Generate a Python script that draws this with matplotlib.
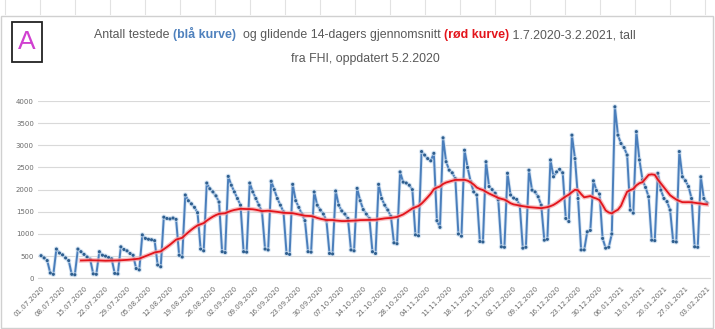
import matplotlib
matplotlib.use("Agg")
import matplotlib.pyplot as plt
import matplotlib.patheffects as pe
from matplotlib import font_manager
from matplotlib.patches import Rectangle
from matplotlib.lines import Line2D
import pandas as pd

# -----------------------------
# Data
# -----------------------------
START_DATE = "2020-07-01"

# daily number tested, one line per week (Mon..Sun); first line starts Wed 1.7
daily_tested = [
    510, 460, 400, 120, 90,
    660, 570, 530, 460, 400, 90, 80,
    660, 600, 540, 480, 430, 100, 90,
    600, 520, 500, 470, 440, 110, 100,
    710, 650, 620, 560, 520, 220, 190,
    980, 900, 880, 870, 850, 300, 260,
    1380, 1350, 1340, 1360, 1330, 520, 480,
    1880, 1750, 1680, 1600, 1480, 660, 620,
    2150, 2020, 1950, 1860, 1720, 600, 580,
    2300, 2100, 1950, 1800, 1650, 600, 590,
    2150, 1950, 1800, 1650, 1500, 660, 640,
    2190, 2000, 1800, 1650, 1500, 560, 540,
    2120, 1750, 1600, 1450, 1300, 600, 590,
    1950, 1650, 1540, 1450, 1300, 560, 550,
    1970, 1650, 1520, 1450, 1350, 640, 620,
    2030, 1750, 1550, 1450, 1350, 600, 560,
    2120, 1800, 1650, 1540, 1400, 800, 780,
    2400, 2170, 2150, 2100, 2000, 980, 960,
    2860, 2780, 2700, 2650, 2820, 1300, 1150,
    3170, 2630, 2440, 2380, 2250, 1000, 950,
    2890, 2500, 2180, 1950, 1880, 830, 820,
    2630, 2070, 2000, 1920, 1770, 710, 700,
    2370, 1880, 1810, 1780, 1650, 680, 700,
    2440, 1990, 1950, 1840, 1650, 860, 880,
    2670, 2290, 2400, 2460, 2380, 1350, 1280,
    3230, 2700, 1800, 640, 640, 1050, 1080,
    2200, 1980, 1900, 900, 680, 700, 1000,
    3870, 3230, 3040, 2950, 2780, 1540, 1470,
    3310, 2670, 2220, 2050, 1840, 860, 850,
    2370, 1990, 1800, 1730, 1540, 830, 820,
    2860, 2290, 2200, 2070, 1800, 710, 700,
    2290, 1800, 1700,
]

WINDOW = 14
Y_TICKS = [0, 500, 1000, 1500, 2000, 2500, 3000, 3500, 4000]
TICK_EVERY = 7

GREY = "#595959"
BLUE = "#4a7ebb"
RED = "#e3141b"

title_parts = [
    ("Antall testede ", GREY, "normal"),
    ("(blå kurve)", "#4f81bd", "bold"),
    ("  og glidende 14-dagers gjennomsnitt ", GREY, "normal"),
    ("(rød kurve)", RED, "bold"),
    (" 1.7.2020-3.2.2021, tall", GREY, "normal"),
]
title_line2 = "fra FHI, oppdatert 5.2.2020"

# -----------------------------
# Prep
# -----------------------------
dates = pd.date_range(START_DATE, periods=len(daily_tested), freq="D")
df = pd.DataFrame({"date": dates, "tested": daily_tested})
df["avg14"] = df["tested"].rolling(WINDOW).mean()
x = list(range(len(df)))

names = {f.name for f in font_manager.fontManager.ttflist}
TITLE_FONT = "Liberation Sans Narrow" if "Liberation Sans Narrow" in names else "Liberation Sans"

# -----------------------------
# Plot
# -----------------------------
W, H = 715, 329
fig = plt.figure(figsize=(W / 100, H / 100), dpi=100)
fig.patch.set_facecolor("white")

ax_l, ax_r, ax_t, ax_b = 38, 710, 101, 278.3
ax = fig.add_axes([ax_l / W, 1 - ax_b / H, (ax_r - ax_l) / W, (ax_b - ax_t) / H])

ax.plot(x, df["tested"], color=BLUE, lw=1.4, marker="o", ms=1.2,
        mfc="#2f5f8f", mec="#2f5f8f",
        path_effects=[pe.Stroke(linewidth=2.6, foreground="#c9dcef", alpha=0.7), pe.Normal()])
ax.plot(x, df["avg14"], color=RED, lw=1.3,
        path_effects=[pe.Stroke(linewidth=3.2, foreground="#f5a3a6", alpha=0.7), pe.Normal()])

ax.set_xlim(-1.0, len(df))
ax.set_ylim(0, 4000)
ax.set_yticks(Y_TICKS)
ax.set_yticklabels([str(v) for v in Y_TICKS])
ax.grid(axis="y", color="#d9d9d9", lw=0.8)
ax.set_axisbelow(True)

tick_pos = x[::TICK_EVERY]
ax.set_xticks(tick_pos)
ax.set_xticklabels([d.strftime("%d.%m.%Y") for d in df["date"][::TICK_EVERY]],
                   rotation=45, ha="right", rotation_mode="anchor")

for s in ["top", "right", "left"]:
    ax.spines[s].set_visible(False)
ax.spines["bottom"].set_color("#d9d9d9")
ax.tick_params(axis="both", length=0, labelsize=5, colors="#6a6a6a", pad=3)
ax.tick_params(axis="x", pad=5)

# frame + sheet ruler marks at the top
fig.add_artist(Rectangle((1 / W, 1 / H), (W - 3) / W, (H - 17) / H, transform=fig.transFigure,
                         fill=False, ec="#d0d0d0", lw=1))
for px in range(5, W, 35):
    fig.add_artist(Line2D([px / W, px / W], [1 - 14 / H, 1.0], transform=fig.transFigure,
                          color="#e2e2e2", lw=0.8))

# "A" label box
fig.add_artist(Rectangle((12 / W, 1 - 62 / H), 30 / W, 40 / H, transform=fig.transFigure,
                         fc="white", ec="#222222", lw=1.3))
fig.text(27 / W, 1 - 42 / H, "A", color="#d040d0", fontsize=19, ha="center", va="center",
         family="Liberation Sans")

# multi-colour title
fig.canvas.draw()
r = fig.canvas.get_renderer()
y1 = 1 - 38 / H
pieces = []
for s, c, w in title_parts:
    t = fig.text(0, y1, s, color=c, fontweight=w, fontsize=8.9, family=TITLE_FONT, va="baseline")
    pieces.append(t)
widths = [t.get_window_extent(r).width for t in pieces]
start = 365 - sum(widths) / 2
for t, w in zip(pieces, widths):
    t.set_x(start / W)
    start += w
fig.text(365 / W, 1 - 62 / H, title_line2, color=GREY, fontsize=8.9, family=TITLE_FONT,
         ha="center", va="baseline")

fig.savefig("out.png", dpi=100)
